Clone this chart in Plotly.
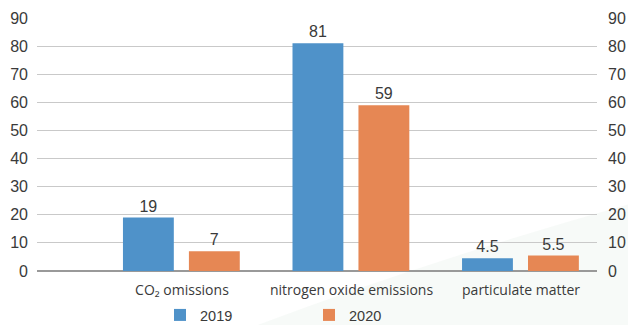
import plotly.graph_objects as go

categories = ["CO₂ omissions", "nitrogen oxide emissions", "particulate matter"]
values_2019 = [19, 81, 4.5]
values_2020 = [7, 59, 5.5]
series_names = ["2019", "2020"]
y_ticks = [0, 10, 20, 30, 40, 50, 60, 70, 80, 90]

BLUE = "#4f92c9"
ORANGE = "#e68754"
TEXT = "#3a3a3a"
FONT = "Liberation Sans, Arial, sans-serif"

fig = go.Figure()
fig.add_trace(go.Bar(
    x=categories, y=values_2019, name=series_names[0],
    marker=dict(color=BLUE, line=dict(width=0)),
    width=0.30, offset=-0.348,
    text=[f"{v:g}" for v in values_2019], textposition="outside",
    textfont=dict(size=16, color=TEXT, family=FONT), cliponaxis=False,
    legend="legend",
))
fig.add_trace(go.Bar(
    x=categories, y=values_2020, name=series_names[1],
    marker=dict(color=ORANGE, line=dict(width=0)),
    width=0.30, offset=0.041,
    text=[f"{v:g}" for v in values_2020], textposition="outside",
    textfont=dict(size=16, color=TEXT, family=FONT), cliponaxis=False,
    legend="legend2",
))
# invisible trace to carry the right-hand axis
fig.add_trace(go.Scatter(x=categories, y=values_2019, yaxis="y2", mode="none",
                         showlegend=False, hoverinfo="skip"))

L, R, T, B = 37, 31, 18, 54
W, H = 628, 325
pw, ph = W - L - R, H - T - B

def px(x):
    return (x - L) / pw

def py(y):
    return (H - B - y) / ph

swoosh = (f"M {px(255)},{py(326)} Q {px(430)},{py(260)} {px(630)},{py(204)} "
          f"L {px(630)},{py(326)} Z")

fig.update_layout(
    width=W, height=H,
    margin=dict(l=L, r=R, t=T, b=B, autoexpand=False),
    paper_bgcolor="white", plot_bgcolor="rgba(0,0,0,0)",
    font=dict(family=FONT, color=TEXT, size=16),
    barmode="overlay",
    shapes=[dict(type="path", xref="paper", yref="paper", path=swoosh,
                 fillcolor="rgba(236,243,238,0.4)", line=dict(width=0), layer="below")],
    xaxis=dict(
        type="category", range=[-0.855, 2.448],
        showgrid=False, showline=False, zeroline=False,
        ticks="", tickfont=dict(size=14, color=TEXT, family="Open Sans, sans-serif"),
        ticklabelstandoff=9,
    ),
    yaxis=dict(
        range=[0, 90], tickvals=y_ticks, showgrid=True, gridcolor="#c9c9c9", gridwidth=1,
        zeroline=True, zerolinecolor="#999999", zerolinewidth=1.5,
        showline=False, ticks="", tickfont=dict(size=16, color=TEXT, family=FONT),
        ticklabelstandoff=8,
    ),
    yaxis2=dict(
        range=[0, 90], tickvals=y_ticks, overlaying="y", side="right",
        showgrid=False, zeroline=False, showline=False, ticks="",
        tickfont=dict(size=16, color=TEXT, family=FONT), ticklabelstandoff=10,
    ),
    legend=dict(orientation="h", x=px(160), y=py(315), xanchor="left", yanchor="middle",
                font=dict(size=14.5, color=TEXT, family=FONT), bgcolor="rgba(0,0,0,0)"),
    legend2=dict(orientation="h", x=px(309), y=py(315), xanchor="left", yanchor="middle",
                 font=dict(size=14.5, color=TEXT, family=FONT), bgcolor="rgba(0,0,0,0)"),
    showlegend=True,
)

fig.write_html("out.html", config={"displayModeBar": False},
               post_script="document.body.style.margin='0';document.body.style.overflow='hidden';")
